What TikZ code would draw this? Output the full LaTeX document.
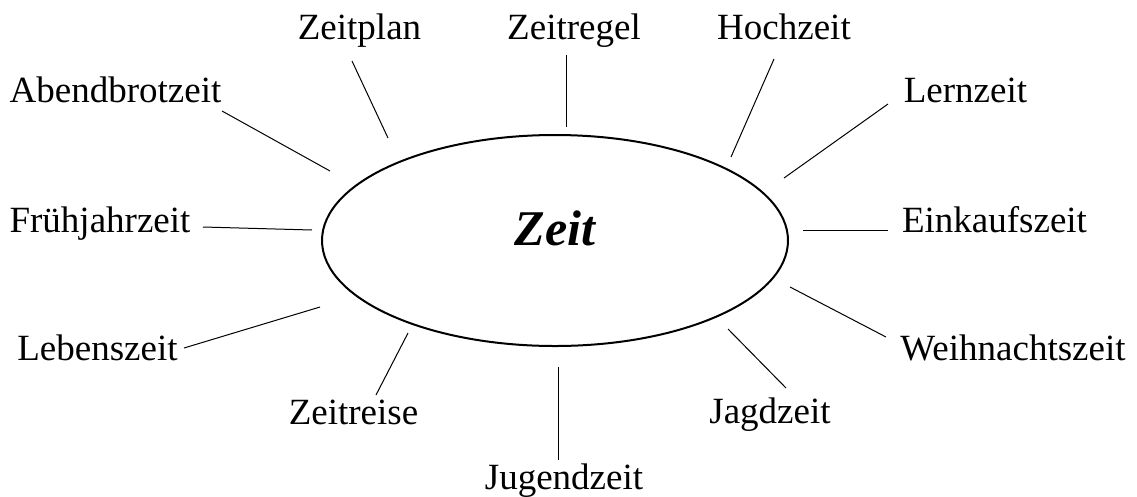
\documentclass[tikz,border=0pt]{standalone}
\usepackage{fontspec}
\setmainfont{Liberation Serif}
\usetikzlibrary{shapes.geometric}

\begin{document}
\begin{tikzpicture}[x=1pt,y=-1pt,
  word/.style={anchor=base,inner sep=0pt,font=\fontsize{37}{40}\selectfont},
  spoke/.style={line width=1pt},
  hub/.style={draw,ellipse,line width=2pt,inner sep=0pt,minimum width=466pt,minimum height=211pt}]
  \useasboundingbox (0,0) rectangle (1137,496);
  % centre
  \node[hub] (zeit) at (555,240.5) {};
  \node[anchor=base,inner sep=0pt,font=\fontsize{50}{50}\selectfont\bfseries\itshape] (zeitlabel) at (555,245) {Zeit};
  % words
  \node[word] (plan) at (359.5,39) {Zeitplan};
  \node[word] (regel) at (574,39) {Zeitregel};
  \node[word] (hoch) at (784,39) {Hochzeit};
  \node[word] (abend) at (115.5,102) {Abendbrotzeit};
  \node[word] (lern) at (965.5,102) {Lernzeit};
  \node[word] (fruehjahr) at (100,232) {Frühjahrzeit};
  \node[word] (einkauf) at (994.5,232) {Einkaufszeit};
  \node[word] (leben) at (97.5,360) {Lebenszeit};
  \node[word] (weihnacht) at (1013,360) {Weihnachtszeit};
  \node[word] (reise) at (353.5,424) {Zeitreise};
  \node[word] (jagd) at (770,423) {Jagdzeit};
  \node[word] (jugend) at (564,489) {Jugendzeit};
  % spoke ends
  \coordinate (plan-a) at (352,61);      \coordinate (plan-b) at (388,138);
  \coordinate (regel-a) at (566.5,55);   \coordinate (regel-b) at (566.5,127);
  \coordinate (hoch-a) at (774,59);      \coordinate (hoch-b) at (731,157);
  \coordinate (abend-a) at (222,111);    \coordinate (abend-b) at (330,171);
  \coordinate (lern-a) at (888,104);     \coordinate (lern-b) at (784,178);
  \coordinate (fruehjahr-a) at (203,227); \coordinate (fruehjahr-b) at (312,230);
  \coordinate (einkauf-a) at (888,230);  \coordinate (einkauf-b) at (803,230);
  \coordinate (leben-a) at (184,348);    \coordinate (leben-b) at (320,307);
  \coordinate (weihnacht-a) at (886,337); \coordinate (weihnacht-b) at (790,287);
  \coordinate (reise-a) at (376,395);    \coordinate (reise-b) at (408,333);
  \coordinate (jagd-a) at (786,388);     \coordinate (jagd-b) at (728,329);
  \coordinate (jugend-a) at (558,460);   \coordinate (jugend-b) at (558,367);
  \draw[spoke] (plan-a) -- (plan-b);
  \draw[spoke] (regel-a) -- (regel-b);
  \draw[spoke] (hoch-a) -- (hoch-b);
  \draw[spoke] (abend-a) -- (abend-b);
  \draw[spoke] (lern-a) -- (lern-b);
  \draw[spoke] (fruehjahr-a) -- (fruehjahr-b);
  \draw[spoke] (einkauf-a) -- (einkauf-b);
  \draw[spoke] (leben-a) -- (leben-b);
  \draw[spoke] (weihnacht-a) -- (weihnacht-b);
  \draw[spoke] (reise-a) -- (reise-b);
  \draw[spoke] (jagd-a) -- (jagd-b);
  \draw[spoke] (jugend-a) -- (jugend-b);
\end{tikzpicture}
\end{document}
